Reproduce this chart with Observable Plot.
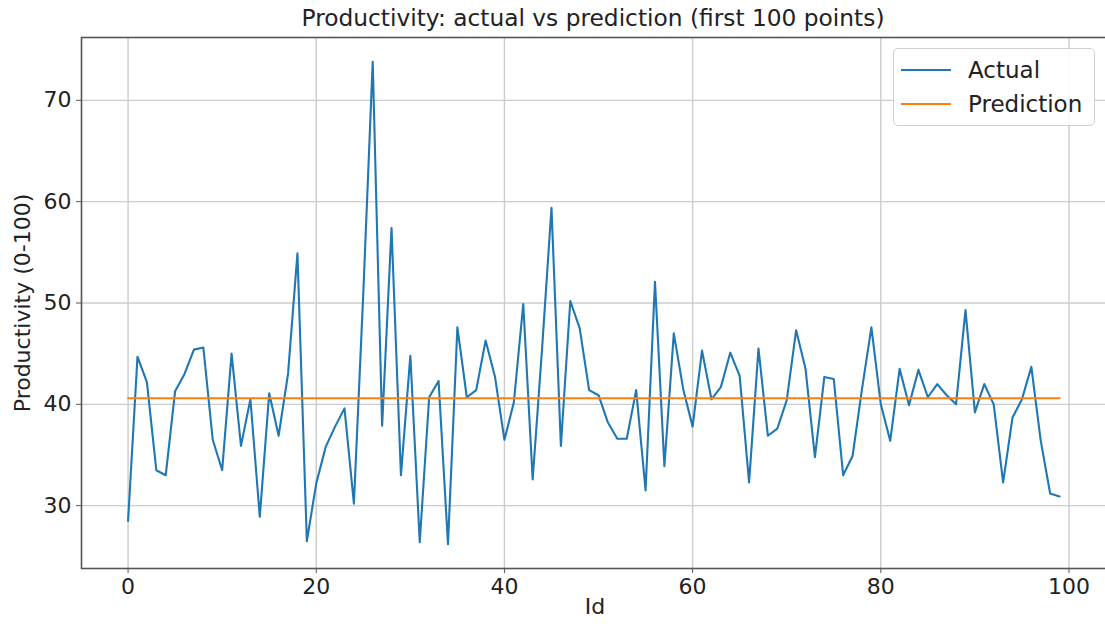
<!DOCTYPE html>
<html>
<head>
<meta charset="utf-8">
<script src="https://cdn.jsdelivr.net/npm/d3@7"></script>
<script src="https://cdn.jsdelivr.net/npm/@observablehq/plot@0.6"></script>
<style>
  html, body { margin: 0; padding: 0; background: white; overflow: hidden; }
  #wrap { position: relative; width: 1105px; height: 628px; overflow: hidden; font-family: "DejaVu Sans", sans-serif; }
  #chart svg { max-width: none !important; }
  #title { position: absolute; left: 81px; width: 1024px; top: 4px; text-align: center; font-size: 23.3px; color: #222; }
  #legend { position: absolute; left: 893px; top: 48px; width: 200px; height: 76px; border: 1px solid #d0d0d0; border-radius: 5px; background: rgba(255,255,255,0.85); }
  .item { position: absolute; left: 0; height: 30px; font-size: 23px; color: #222; }
  .sw { position: absolute; left: 7px; width: 50px; height: 0; border-top: 2px solid; }
  .lab { position: absolute; left: 74px; top: 0; line-height: 30px; white-space: nowrap; }
</style>
</head>
<body>
<div id="wrap">
  <div id="chart"></div>
  <div id="title"></div>
  <div id="legend"></div>
</div>
<script>
const titleText = "Productivity: actual vs prediction (first 100 points)";
const xLabel = "Id";
const yLabel = "Productivity (0-100)";
const seriesNames = ["Actual", "Prediction"];
const seriesColors = ["#1f77b4", "#ff7f0e"];
const xTicks = [0, 20, 40, 60, 80, 100];
const yTicks = [30, 40, 50, 60, 70];

const actual = [
  28.5, 44.7, 42.2, 33.5, 33.0, 41.3, 43.0, 45.4, 45.6, 36.5,
  33.5, 45.0, 35.9, 40.5, 28.9, 41.1, 36.9, 43.0, 54.9, 26.5,
  32.2, 35.8, 37.8, 39.6, 30.2, 51.0, 73.8, 37.9, 57.4, 33.0,
  44.8, 26.4, 40.7, 42.3, 26.2, 47.6, 40.7, 41.4, 46.3, 42.7,
  36.5, 40.2, 49.9, 32.6, 45.5, 59.4, 35.9, 50.2, 47.5, 41.4,
  40.9, 38.2, 36.6, 36.6, 41.4, 31.5, 52.1, 33.9, 47.0, 41.5,
  37.8, 45.3, 40.5, 41.7, 45.1, 42.8, 32.3, 45.5, 36.9, 37.6,
  40.4, 47.3, 43.5, 34.8, 42.7, 42.5, 33.0, 34.9, 41.5, 47.6,
  40.0, 36.4, 43.5, 39.9, 43.4, 40.7, 42.0, 40.9, 40.0, 49.3,
  39.2, 42.0, 40.0, 32.3, 38.7, 40.5, 43.7, 36.4, 31.2, 30.9
];
const prediction = [
  40.6, 40.6, 40.6, 40.6, 40.6, 40.6, 40.6, 40.6, 40.6, 40.6,
  40.6, 40.6, 40.6, 40.6, 40.6, 40.6, 40.6, 40.6, 40.6, 40.6,
  40.6, 40.6, 40.6, 40.6, 40.6, 40.6, 40.6, 40.6, 40.6, 40.6,
  40.6, 40.6, 40.6, 40.6, 40.6, 40.6, 40.6, 40.6, 40.6, 40.6,
  40.6, 40.6, 40.6, 40.6, 40.6, 40.6, 40.6, 40.6, 40.6, 40.6,
  40.6, 40.6, 40.6, 40.6, 40.6, 40.6, 40.6, 40.6, 40.6, 40.6,
  40.6, 40.6, 40.6, 40.6, 40.6, 40.6, 40.6, 40.6, 40.6, 40.6,
  40.6, 40.6, 40.6, 40.6, 40.6, 40.6, 40.6, 40.6, 40.6, 40.6,
  40.6, 40.6, 40.6, 40.6, 40.6, 40.6, 40.6, 40.6, 40.6, 40.6,
  40.6, 40.6, 40.6, 40.6, 40.6, 40.6, 40.6, 40.6, 40.6, 40.6
];

const rows = actual.map((v, i) => ({id: i, actual: v, prediction: prediction[i]}));

const chart = Plot.plot({
  width: 1108,
  height: 628,
  marginTop: 37,
  marginBottom: 60,
  marginLeft: 81,
  marginRight: 0,
  style: {fontFamily: "DejaVu Sans", fontSize: "22px", color: "#222", background: "white", maxWidth: "none"},
  x: {domain: [-4.95, 104.2]},
  y: {domain: [23.8, 76.2]},
  marks: [
    Plot.gridX({ticks: xTicks, stroke: "#cccccc", strokeOpacity: 1, strokeWidth: 1.4}),
    Plot.gridY({ticks: yTicks, stroke: "#cccccc", strokeOpacity: 1, strokeWidth: 1.4}),
    Plot.axisX({ticks: xTicks, tickSize: 5, tickPadding: 5, label: null, stroke: "#555", fill: "#222"}),
    Plot.axisY({ticks: yTicks, tickSize: 5, tickPadding: 5, label: null, stroke: "#555", fill: "#222"}),
    Plot.line(rows, {x: "id", y: "actual", stroke: seriesColors[0], strokeWidth: 2.1}),
    Plot.line(rows, {x: "id", y: "prediction", stroke: seriesColors[1], strokeWidth: 2.1}),
    Plot.frame({stroke: "#555", strokeWidth: 1.6}),
    Plot.text([xLabel], {frameAnchor: "bottom", dy: 45, fontSize: 22, fill: "#222"}),
    Plot.text([yLabel], {frameAnchor: "left", dx: -59, rotate: -90, textAnchor: "middle", fontSize: 22, fill: "#222"})
  ]
});
document.getElementById("chart").appendChild(chart);
document.getElementById("title").textContent = titleText;

const legend = document.getElementById("legend");
seriesNames.forEach((name, i) => {
  const item = document.createElement("div");
  item.className = "item";
  item.style.top = (6 + i * 34) + "px";
  item.style.width = "200px";
  const sw = document.createElement("div");
  sw.className = "sw";
  sw.style.borderTopColor = seriesColors[i];
  sw.style.top = "14px";
  const lab = document.createElement("div");
  lab.className = "lab";
  lab.textContent = name;
  item.appendChild(sw);
  item.appendChild(lab);
  legend.appendChild(item);
});
</script>
</body>
</html>
